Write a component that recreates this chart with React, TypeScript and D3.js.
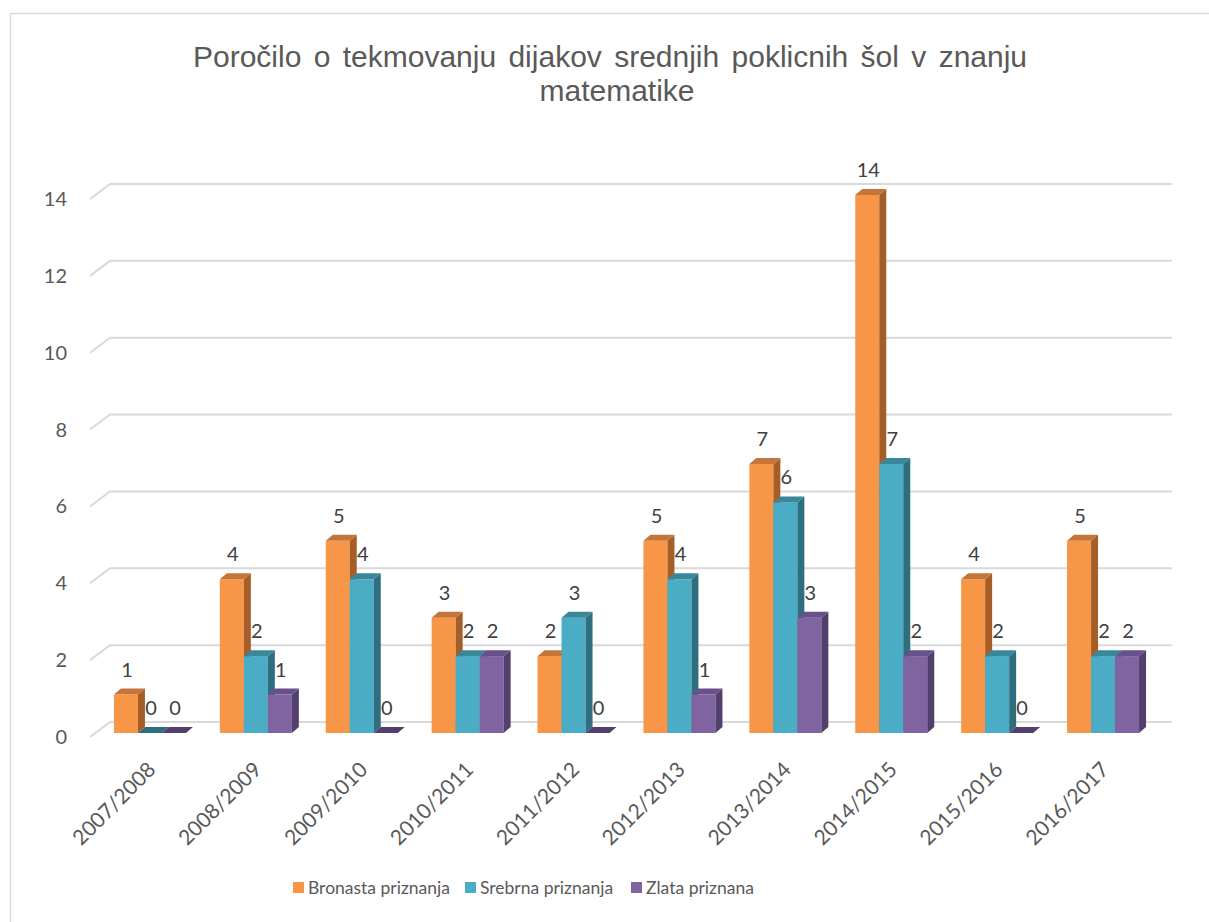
import * as d3 from 'd3';

const categories = [
  '2007/2008', '2008/2009', '2009/2010', '2010/2011', '2011/2012',
  '2012/2013', '2013/2014', '2014/2015', '2015/2016', '2016/2017',
];
const bronze = [1, 4, 5, 3, 2, 5, 7, 14, 4, 5];
const silver = [0, 2, 4, 2, 3, 4, 6, 7, 2, 2];
const gold = [0, 1, 0, 2, 0, 1, 3, 2, 0, 2];
const seriesNames = ['Bronasta priznanja', 'Srebrna priznanja', 'Zlata priznana'];
const yTicks = [0, 2, 4, 6, 8, 10, 12, 14];

const palette = [
  { front: '#F79646', side: '#A65E28', top: '#C4763A' },
  { front: '#4BACC6', side: '#2F6E7F', top: '#3A8799' },
  { front: '#8064A2', side: '#533F6B', top: '#68518A' },
];

const W = 1209;
const H = 922;
const DX = 7;
const DY = 6;
const labelFont = 'Lato, "Open Sans", sans-serif';

export default function App() {
  const series = [bronze, silver, gold];

  const x = d3.scaleBand<string>().domain(categories).range([97, 1156]).padding(0);
  const inner = d3.scaleBand<string>().domain(seriesNames).range([-36, 36]).padding(0);
  const y = d3.scaleLinear().domain([0, 14]).range([733, 195]);

  const bars: JSX.Element[] = [];
  categories.forEach((cat, ci) => {
    const cx = (x(cat) ?? 0) + x.bandwidth() / 2;
    series.forEach((vals, si) => {
      const v = vals[ci];
      const c = palette[si];
      const x0 = cx + (inner(seriesNames[si]) ?? 0);
      const x1 = x0 + inner.bandwidth();
      const yb = y(0);
      const yt = y(v);
      const key = `${ci}-${si}`;
      const topPts = `${x0},${yt} ${x0 + DX},${yt - DY} ${x1 + DX},${yt - DY} ${x1},${yt}`;
      if (v > 0) {
        bars.push(
          <g key={key}>
            <rect x={x0} y={yt} width={x1 - x0} height={yb - yt} fill={c.front} />
            <polygon points={`${x1},${yb} ${x1 + DX},${yb - DY} ${x1 + DX},${yt - DY} ${x1},${yt}`} fill={c.side} />
            <polygon points={topPts} fill={c.top} />
          </g>
        );
      } else {
        bars.push(
          <g key={key}>
            <polygon points={topPts} fill={c.side} />
          </g>
        );
      }
      bars.push(
        <text key={key + 'l'} x={(x0 + x1) / 2 + 1} y={yt - 18} textAnchor="middle"
          fontFamily={labelFont} fontSize={20} fill="#404040">{v}</text>
      );
    });
  });

  const legendX = [293, 465, 631];

  return (
    <svg width={W} height={H} style={{ position: 'absolute', left: 0, top: 0, background: '#fff' }}>
      <rect x={10.5} y={13.5} width={1220} height={940} fill="#fff" stroke="#D9D9D9" strokeWidth={1.5} />

      <text x={610} y={67} textAnchor="middle" fontFamily='"Liberation Sans", Arial, sans-serif'
        fontSize={30} fill="#595959" wordSpacing={4}>
        Poročilo o tekmovanju dijakov srednjih poklicnih šol v znanju
      </text>
      <text x={617} y={101} textAnchor="middle" fontFamily='"Liberation Sans", Arial, sans-serif'
        fontSize={30} fill="#595959">
        matematike
      </text>

      {yTicks.map(t => (
        <g key={'g' + t}>
          <polyline points={`${90},${y(t) + 4} ${110},${y(t) - 11} ${1172},${y(t) - 11}`}
            fill="none" stroke="#D9D9D9" strokeWidth={2} />
          <text x={67} y={y(t) + 4} dy="0.35em" textAnchor="end" fontFamily={labelFont}
            fontSize={20} fill="#595959">{t}</text>
        </g>
      ))}

      {bars}

      {categories.map(cat => {
        const cx = (x(cat) ?? 0) + x.bandwidth() / 2;
        return (
          <text key={'x' + cat} transform={`translate(${cx + 7},${771}) rotate(-45)`} textAnchor="end"
            fontFamily={labelFont} fontSize={21} fill="#595959">{cat}</text>
        );
      })}

      {seriesNames.map((s, i) => (
        <g key={'lg' + s}>
          <rect x={legendX[i]} y={882} width={11} height={11} fill={palette[i].front} />
          <text x={legendX[i] + 15} y={888} dy="0.35em" fontFamily={labelFont} fontSize={17.5} fill="#595959">{s}</text>
        </g>
      ))}
    </svg>
  );
}
